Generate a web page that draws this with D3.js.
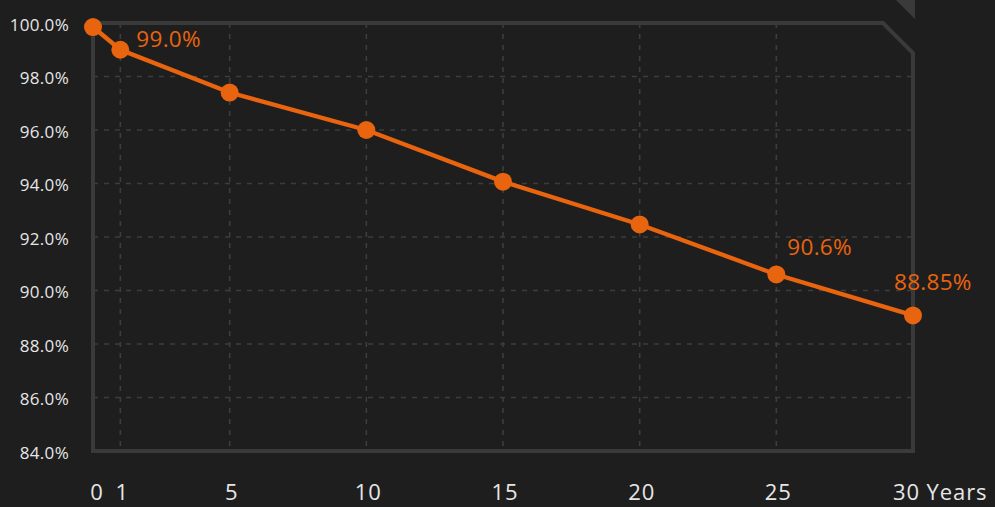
<!DOCTYPE html>
<html>
<head>
<meta charset="utf-8">
<script src="https://cdn.jsdelivr.net/npm/d3@7"></script>
<style>
  html, body { margin: 0; padding: 0; background: #1e1e1e; }
  svg { display: block; }
  text { font-family: "Open Sans", "Noto Sans", sans-serif; }
</style>
</head>
<body>
<div id="chart"></div>
<script>
// Retention over time
const years = [0, 1, 5, 10, 15, 20, 25, 30];
const retention = [99.85, 99.0, 97.4, 96.0, 94.07, 92.47, 90.6, 89.07];
const pointLabels = ['', '99.0%', '', '', '', '', '90.6%', '88.85%'];
const xTicks = [0, 1, 5, 10, 15, 20, 25, 30];
const yTicks = [84, 86, 88, 90, 92, 94, 96, 98, 100];

const width = 995, height = 507;
const orange = '#e9640f';
const frameColor = '#3a3a3a';
const gridColor = '#3d3d3d';

const svg = d3.select('#chart').append('svg')
  .attr('width', width)
  .attr('height', height);

const x = d3.scaleLinear().domain([0, 30]).range([93, 913]);
const y = d3.scaleLinear().domain([84, 100]).range([451, 23]);

// corner decoration
svg.append('path')
  .attr('d', 'M896,0 L915,0 L915,19 Z')
  .attr('fill', frameColor);

// dashed grid
const grid = svg.append('g');
grid.selectAll('line.h')
  .data(yTicks.filter(d => d > 84 && d < 100))
  .enter().append('line')
  .attr('class', 'h')
  .attr('x1', x(0)).attr('x2', x(30))
  .attr('y1', d => y(d)).attr('y2', d => y(d))
  .attr('stroke', gridColor)
  .attr('stroke-width', 1.6)
  .attr('stroke-dasharray', '5,6');

grid.selectAll('line.v')
  .data(xTicks.filter(d => d > 0 && d < 30))
  .enter().append('line')
  .attr('class', 'v')
  .attr('x1', d => x(d)).attr('x2', d => x(d))
  .attr('y1', y(100)).attr('y2', y(84))
  .attr('stroke', gridColor)
  .attr('stroke-width', 1.6)
  .attr('stroke-dasharray', '5,6');

// frame with clipped top-right corner
const cut = 30;
const fx0 = x(0), fx1 = x(30), fy0 = y(100), fy1 = y(84);
svg.append('path')
  .attr('d', `M${fx0},${fy1} L${fx0},${fy0} L${fx1 - cut},${fy0} L${fx1},${fy0 + cut} L${fx1},${fy1} Z`)
  .attr('fill', 'none')
  .attr('stroke', frameColor)
  .attr('stroke-width', 4);

// y axis labels
svg.append('g').selectAll('text')
  .data(yTicks)
  .enter().append('text')
  .attr('x', 69)
  .attr('y', d => y(d) + 3)
  .attr('text-anchor', 'end')
  .attr('dominant-baseline', 'middle')
  .attr('fill', '#e6e6e6')
  .attr('font-size', 17)
  .attr('letter-spacing', 0.3)
  .text(d => d.toFixed(1) + '%');

// x axis labels
const xl = svg.append('g');
xl.selectAll('text')
  .data(xTicks)
  .enter().append('text')
  .attr('x', d => d === 30 ? x(d) - 20 : x(d) + (d === 0 ? 4 : 2))
  .attr('y', 494)
  .attr('text-anchor', d => d === 30 ? 'start' : 'middle')
  .attr('dominant-baseline', 'middle')
  .attr('fill', '#e6e6e6')
  .attr('font-size', 22)
  .attr('letter-spacing', 0.9)
  .text(d => d === 30 ? '30 Years' : d);

// line + markers
const pts = years.map((yr, i) => ({ yr, v: retention[i], label: pointLabels[i] }));

svg.append('path')
  .datum(pts)
  .attr('fill', 'none')
  .attr('stroke', orange)
  .attr('stroke-width', 4.3)
  .attr('d', d3.line().x(d => x(d.yr)).y(d => y(d.v)));

svg.append('g').selectAll('circle')
  .data(pts)
  .enter().append('circle')
  .attr('cx', d => x(d.yr))
  .attr('cy', d => y(d.v))
  .attr('r', 9)
  .attr('fill', orange);

// value labels
const labelOffset = { 1: [16, -9], 25: [11, -25], 30: [-19, -31] };
svg.append('g').selectAll('text')
  .data(pts.filter(d => d.label))
  .enter().append('text')
  .attr('x', d => x(d.yr) + labelOffset[d.yr][0])
  .attr('y', d => y(d.v) + labelOffset[d.yr][1])
  .attr('dominant-baseline', 'middle')
  .attr('fill', orange)
  .attr('font-size', 22.5)
  .attr('letter-spacing', 0.3)
  .text(d => d.label);
</script>
</body>
</html>
